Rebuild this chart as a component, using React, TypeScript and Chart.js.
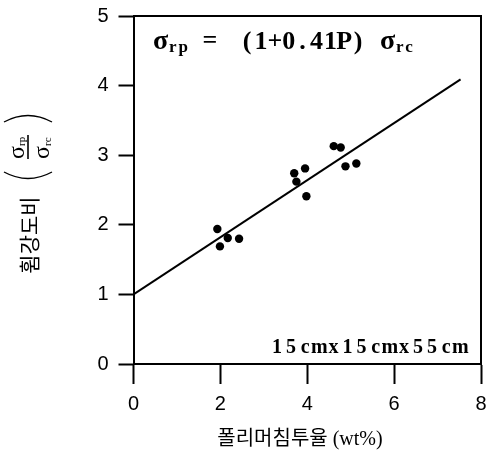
import React, { useEffect, useRef } from 'react';
import { Chart, registerables } from 'chart.js';

Chart.register(...registerables);

// ---- data ----
const penetration = [1.93, 1.99, 2.17, 2.43, 3.70, 3.75, 3.95, 3.98, 4.61, 4.77, 4.88, 5.13];
const strengthRatio = [1.94, 1.69, 1.81, 1.80, 2.74, 2.62, 2.81, 2.41, 3.13, 3.11, 2.84, 2.88];
const fitX = [0, 7.53];
const fitY = [1.0, 4.09];
const xTickValues = [0, 2, 4, 6, 8];
const yTickValues = [0, 1, 2, 3, 4, 5];
const xTitle = '폴리머침투율 (wt%)';
const yTitle = '휨강도비';
const equationParts = ['σ', 'rp', '=', '(1+0.41P)', 'σ', 'rc'];
const specimenLabel = '15cmx15cmx55cm';

const annotationPlugin = {
  id: 'annotations',
  afterDraw(chart: any) {
    const ctx = chart.ctx as CanvasRenderingContext2D;
    const { left, top, right, bottom } = chart.chartArea;
    ctx.save();
    ctx.strokeStyle = '#000';
    ctx.fillStyle = '#000';
    // top and right frame
    ctx.lineWidth = 2;
    ctx.beginPath();
    ctx.moveTo(left, top);
    ctx.lineTo(right, top);
    ctx.lineTo(right, bottom);
    ctx.stroke();

    // equation
    ctx.textAlign = 'left';
    ctx.textBaseline = 'alphabetic';
    const base = 49;
    ctx.font = 'bold 28px "Liberation Serif"';
    ctx.fillText(equationParts[0], 153, base);
    ctx.font = 'bold 17px "Liberation Serif"';
    (ctx as any).letterSpacing = '2px';
    ctx.fillText(equationParts[1], 169, base + 3);
    (ctx as any).letterSpacing = '0px';
    ctx.textAlign = 'center';
    ctx.font = 'bold 26px "Liberation Serif"';
    ctx.fillText(equationParts[2], 210, base - 1);
    const paren = equationParts[3];
    for (let i = 0; i < paren.length; i++) {
      ctx.fillText(paren[i], 247 + i * 13.9, base);
    }
    ctx.textAlign = 'left';
    ctx.font = 'bold 28px "Liberation Serif"';
    ctx.fillText(equationParts[4], 380, base);
    ctx.font = 'bold 17px "Liberation Serif"';
    (ctx as any).letterSpacing = '2px';
    ctx.fillText(equationParts[5], 396, base + 3);
    (ctx as any).letterSpacing = '0px';

    // specimen label
    ctx.textAlign = 'center';
    ctx.font = 'bold 20px "Liberation Serif"';
    for (let i = 0; i < specimenLabel.length; i++) {
      ctx.fillText(specimenLabel[i], 277 + i * 14.1, 353);
    }

    // x axis title
    ctx.textAlign = 'center';
    ctx.textBaseline = 'middle';
    ctx.font = '20px "Liberation Serif", "Noto Sans CJK KR"';
    ctx.fillText(xTitle, 300, 440);

    // y axis title (rotated)
    ctx.save();
    ctx.translate(28, 147);
    ctx.rotate(-Math.PI / 2);
    ctx.textAlign = 'center';
    ctx.textBaseline = 'middle';
    ctx.font = '21px "Noto Sans CJK KR"';
    ctx.fillText(yTitle, -88, 1);
    ctx.lineWidth = 1.6;
    ctx.beginPath();
    ctx.moveTo(-12, 0);
    ctx.lineTo(12, 0);
    ctx.stroke();
    ctx.textAlign = 'left';
    ctx.textBaseline = 'alphabetic';
    ctx.font = '24px "Liberation Serif"';
    ctx.fillText('σ', -12, -4);
    ctx.fillText('σ', -12, 21);
    ctx.font = '11px "Liberation Serif"';
    ctx.fillText('rp', 1, -3);
    ctx.fillText('rc', 1, 23);
    ctx.lineWidth = 1.4;
    ctx.beginPath();
    ctx.moveTo(-25, -24);
    ctx.quadraticCurveTo(-38, 0, -25, 24);
    ctx.moveTo(25, -24);
    ctx.quadraticCurveTo(38, 0, 25, 24);
    ctx.stroke();
    ctx.restore();

    ctx.restore();
  },
};

export default function App() {
  const canvasRef = useRef<HTMLCanvasElement | null>(null);

  useEffect(() => {
    document.body.style.margin = '0';
    const canvas = canvasRef.current;
    if (!canvas) return;
    const chart = new Chart(canvas, {
      type: 'scatter',
      data: {
        datasets: [
          {
            label: 'measured',
            data: penetration.map((x, i) => ({ x, y: strengthRatio[i] })),
            backgroundColor: '#000',
            borderColor: '#000',
            borderWidth: 0,
            pointRadius: 4.2,
          },
          {
            label: 'fit',
            data: fitX.map((x, i) => ({ x, y: fitY[i] })),
            showLine: true,
            borderColor: '#000',
            borderWidth: 2,
            pointRadius: 0,
            fill: false,
          },
        ],
      },
      options: {
        responsive: false,
        animation: false,
        layout: { padding: { left: 0, top: 16, right: 5, bottom: 0 } },
        plugins: { legend: { display: false }, tooltip: { enabled: false } },
        scales: {
          x: {
            type: 'linear',
            min: 0,
            max: 8,
            afterBuildTicks: (s: any) => {
              s.ticks = xTickValues.map((v) => ({ value: v }));
            },
            afterFit: (s: any) => {
              s.height = 98;
              s.paddingLeft = 0;
              s.paddingRight = 0;
            },
            grid: {
              display: true,
              drawOnChartArea: false,
              drawTicks: true,
              tickLength: 20,
              tickWidth: 2,
              tickColor: '#000',
            },
            border: { display: true, color: '#000', width: 2 },
            ticks: {
              color: '#000',
              padding: 8,
              font: { family: '"Liberation Sans"', size: 20 },
              maxRotation: 0,
            },
            title: { display: false },
          },
          y: {
            type: 'linear',
            min: 0,
            max: 5,
            afterBuildTicks: (s: any) => {
              s.ticks = yTickValues.map((v) => ({ value: v }));
            },
            afterFit: (s: any) => {
              s.width = 133.5;
              s.paddingTop = 0;
              s.paddingBottom = 0;
            },
            grid: {
              display: true,
              drawOnChartArea: false,
              drawTicks: true,
              tickLength: 15,
              tickWidth: 2,
              tickColor: '#000',
            },
            border: { display: true, color: '#000', width: 2 },
            ticks: {
              color: '#000',
              padding: 10,
              font: { family: '"Liberation Sans"', size: 20 },
            },
          },
        },
      },
      plugins: [annotationPlugin],
    } as any);
    return () => chart.destroy();
  }, []);

  return (
    <div style={{ width: 486, height: 462 }}>
      <canvas ref={canvasRef} width={486} height={462} style={{ display: 'block' }} />
    </div>
  );
}
